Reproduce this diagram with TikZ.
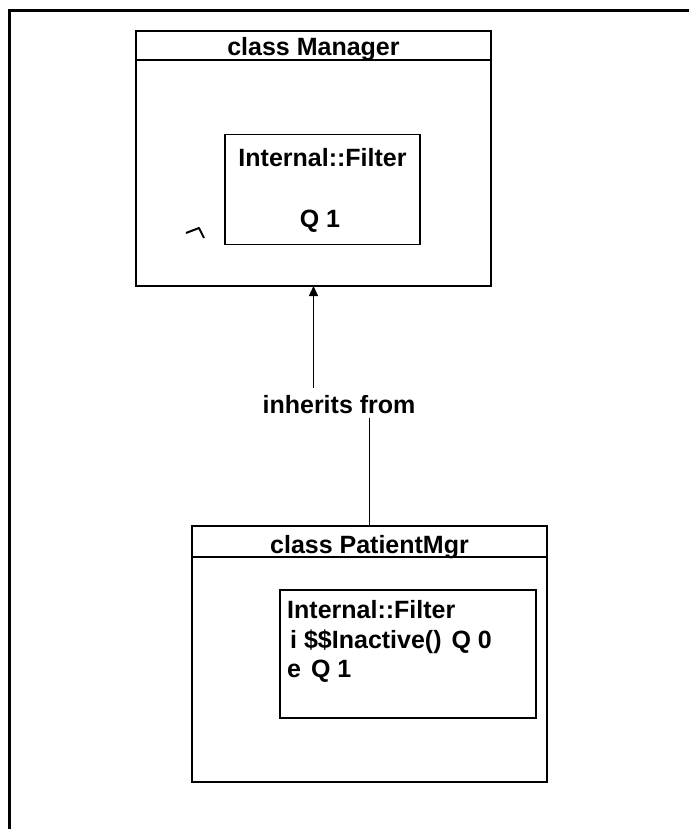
\documentclass[tikz,border=0pt]{standalone}
\usepackage{fontspec}
\setmainfont{Liberation Sans}
\usetikzlibrary{arrows.meta}
\begin{document}
\begin{tikzpicture}[x=1pt,y=-1pt,
  classbox/.style={draw, line width=1.4pt, inner sep=0pt, outer sep=0pt},
  txt/.style={font=\fontsize{25}{30}\selectfont\bfseries, inner sep=0pt, anchor=base}]
  \useasboundingbox (0,0) rectangle (688,829);
  % page frame (left and top edges)
  \draw[line width=3pt] (9.5,835) -- (9.5,10.5) -- (695,10.5);

  % class Manager
  \node[classbox, minimum width=355pt, minimum height=255pt] (mgr) at (313.5,158.5) {};
  \draw[line width=1.4pt] ([yshift=-29pt]mgr.north west) -- ([yshift=-29pt]mgr.north east);
  \node[txt] (mgrtitle) at (313.5,56) {class Manager};
  \node[classbox, minimum width=195pt, minimum height=110pt] (flt1) at (322.5,189.5) {};
  \node[txt] (flt1a) at (322.5,167) {Internal::Filter};
  \node[txt] (flt1b) at (320,227) {Q 1};
  \draw[line width=2pt, line join=round] (186,233) -- (199,228) -- (204,238);

  % class PatientMgr
  \node[classbox, minimum width=355pt, minimum height=256pt] (pm) at (369.5,654) {};
  \draw[line width=1.4pt] ([yshift=-31pt]pm.north west) -- ([yshift=-31pt]pm.north east);
  \node[txt] (pmtitle) at (369.5,553) {class PatientMgr};
  \node[classbox, minimum width=256pt, minimum height=128pt] (flt2) at (408,654) {};
  \node[txt, anchor=base west] (flt2a) at (287,618) {Internal::Filter};
  \node[txt, anchor=base west] (flt2b) at (290,648) {i \$\$Inactive()\hspace{3pt} Q 0};
  \node[txt, anchor=base west] (flt2c) at (287,677) {e\hspace{10pt}Q 1};

  % inheritance
  \node[txt] (inh) at (339,413) {inherits from};
  \draw[line width=1.2pt, -{Triangle[length=10pt,width=9pt]}]
    ([yshift=7pt]inh.north -| mgr.south) -- (mgr.south);
  \draw[line width=1.2pt] ([yshift=-5pt]inh.south -| pm.north) -- (pm.north);
\end{tikzpicture}
\end{document}
